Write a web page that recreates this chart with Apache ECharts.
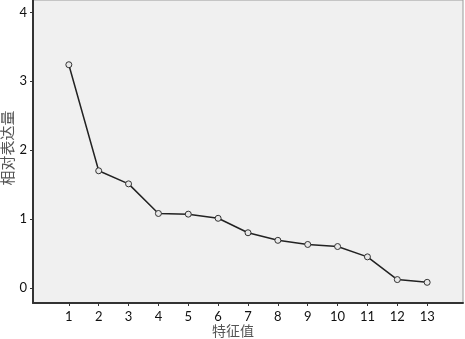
<!DOCTYPE html>
<html><head><meta charset="utf-8">
<script src="https://cdn.jsdelivr.net/npm/echarts@6/dist/echarts.min.js"></script>
<style>html,body{margin:0;padding:0;background:#fff}#c{width:465px;height:339px}</style>
</head><body><div id="c"></div>
<script>
var categories = [1,2,3,4,5,6,7,8,9,10,11,12,13];
var values = [3.24,1.70,1.51,1.08,1.07,1.01,0.80,0.69,0.63,0.60,0.45,0.12,0.08];
var yTicks = [0,1,2,3,4];
var xName = '特征值';
var yName = '相对表达量';

var chart = echarts.init(document.getElementById('c'), null, {renderer:'canvas'});
chart.setOption({
  animation:false,
  backgroundColor:'#fff',
  grid:{left:33,right:2,top:0,bottom:36,show:true,outerBoundsMode:'none',containLabel:false,
    backgroundColor:'#f0f0f0',borderColor:'#9a9a9a',borderWidth:1},
  xAxis:{type:'value',min:-0.2,max:14.2,
    name:xName,nameLocation:'middle',nameGap:21,nameMoveOverlap:false,
    nameTextStyle:{color:'#555',fontSize:14,fontFamily:'Noto Sans CJK SC',padding:[0,30,0,0]},
    axisLine:{show:true,onZero:false,lineStyle:{color:'#333',width:2}},
    axisTick:{show:true,customValues:categories,length:3,lineStyle:{color:'#333'}},
    axisLabel:{customValues:categories,color:'#111',fontSize:13,fontFamily:'Lato',margin:7},
    splitLine:{show:false}},
  yAxis:{type:'value',min:-0.22,max:4.18,
    name:yName,nameLocation:'middle',nameGap:18,nameMoveOverlap:false,
    nameTextStyle:{color:'#555',fontSize:15,fontFamily:'Noto Sans CJK SC',padding:[0,0,0,7]},
    axisLine:{show:true,onZero:false,lineStyle:{color:'#333',width:2}},
    axisTick:{show:true,customValues:yTicks,length:3,lineStyle:{color:'#333'}},
    axisLabel:{customValues:yTicks,color:'#111',fontSize:13,fontFamily:'Lato',margin:6},
    splitLine:{show:false}},
  series:[{type:'line',data:categories.map(function(c,i){return [c,values[i]];}),
    symbol:'circle',symbolSize:6,showSymbol:true,
    itemStyle:{color:'#e8e8e8',borderColor:'#333',borderWidth:1},
    lineStyle:{color:'#222',width:1.5}}]
});
</script></body></html>
